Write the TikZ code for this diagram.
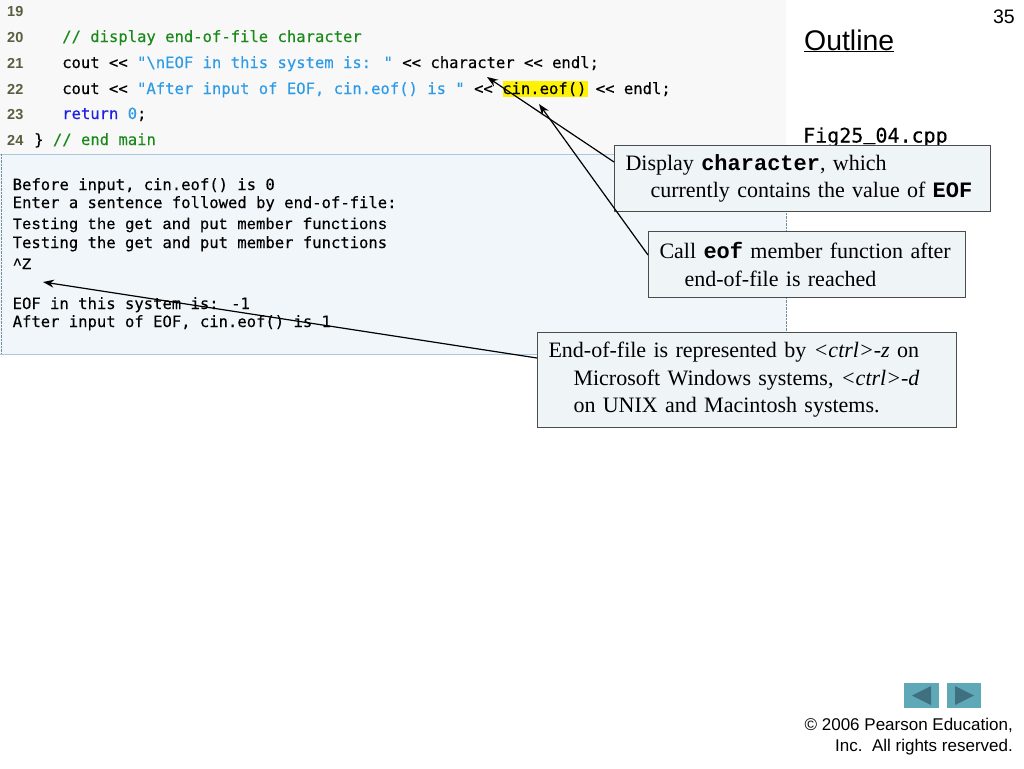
\documentclass[tikz,border=0pt]{standalone}
\usepackage{fontspec}
\usetikzlibrary{arrows.meta}
\setmainfont{Liberation Serif}
\setsansfont{Liberation Sans}
\newfontfamily\codefont[FakeBold=0.25]{DejaVu Sans Mono}
\newfontfamily\slabfont[FakeBold=0.6]{Liberation Mono}
\newfontfamily\kwfont{Liberation Mono}
\definecolor{codebg}{HTML}{F8F8F8}
\definecolor{outbg}{HTML}{F0F6FA}
\definecolor{outedge}{HTML}{A9C8E0}
\definecolor{boxbg}{HTML}{EFF4F7}
\definecolor{numcol}{HTML}{5C5C40}
\definecolor{commentcol}{HTML}{1B8A1B}
\definecolor{stringcol}{HTML}{2E9BE6}
\definecolor{keycol}{HTML}{1F1FE0}
\definecolor{btnbg}{HTML}{5FA8B8}
\definecolor{btnfg}{HTML}{3F7080}
\newcommand{\kw}[1]{{\kwfont\bfseries #1}}

\begin{document}
\begin{tikzpicture}[
    x=1pt, y=-1pt,
	codeline/.style={
	  anchor=base west,
	  inner sep=0pt,
	  font=\codefont\fontsize{15.55}{18}\selectfont
	},
	slabline/.style={
	  anchor=base west,
	  inner sep=0pt,
	  font=\slabfont\fontsize{15.6}{18}\selectfont
	},
	lineno/.style={
	  anchor=base west,
	  inner sep=0pt,
	  text=numcol,
	  font=\sffamily\bfseries\fontsize{14.5}{17}\selectfont
	},
	callout/.style={
	  rectangle,
	  anchor=north west,
	  draw=black!70,
	  line width=1pt,
	  fill=boxbg,
	  inner xsep=11pt,
	  inner ysep=0pt,
	  align=left,
	  font=\fontsize{22}{27.5}\selectfont
	},
	sans/.style={
	  inner sep=0pt,
	  font=\sffamily\fontsize{17}{21}\selectfont
	},
	button/.style={
	  rectangle,
	  fill=btnbg,
	  minimum width=34.5pt,
	  minimum height=25pt,
	  inner sep=0pt
	},
 	line/.style={draw, line width=1.2pt, -{Stealth[length=11pt, width=8pt]}}
	]
	\useasboundingbox (0, 0) rectangle (1024, 768);
	\fill[white] (0, 0) rectangle (1024, 768);
	% panels
	\fill[codebg] (0, 0) rectangle (786, 154);
	\fill[outbg] (0, 154) rectangle (786, 354);
	\draw[outedge] (0, 154) -- (786, 154);
	\draw[outedge] (0, 354) -- (786, 354);
	\draw[outedge!70!black, densely dotted] (1, 154) -- (1, 354);
	\draw[outedge!70!black, densely dotted] (786, 154) -- (786, 354);
	\fill[yellow] (503, 81) rectangle (588, 97);
	% source lines
	\foreach \num/\ypos in {19/17, 20/42, 21/68, 22/94, 23/119, 24/145}
	  \node [lineno] at (7, \ypos) (no\num) {\num};
	\node [codeline] at (62, 42) (line20) {\textcolor{commentcol}{// display end-of-file character}};
	\node [codeline] at (62, 68) (line21) {cout << \textcolor{stringcol}{"\textbackslash nEOF in this system is: "} << character << endl;};
	\node [codeline] at (62, 94) (line22) {cout << \textcolor{stringcol}{"After input of EOF, cin.eof() is "} << cin.eof() << endl;};
	\node [codeline] at (62, 119) (line23) {\textcolor{keycol}{return} \textcolor{stringcol}{0};};
	\node [codeline] at (34, 145) (line24) {\} \textcolor{commentcol}{// end main}};
	% program output
	\node [codeline] at (12.5, 190) (out1) {Before input, cin.eof() is 0};
	\node [codeline] at (12.5, 208) (out2) {Enter a sentence followed by end-of-file:};
	\node [slabline] at (12.5, 229) (out3) {Testing the get and put member functions};
	\node [codeline] at (12.5, 248) (out4) {Testing the get and put member functions};
	\node [slabline] at (12.5, 269) (out5) {\textasciicircum Z};
	\node [codeline] at (12.5, 309) (out6) {EOF in this system is: -1};
	\node [codeline] at (12.5, 327) (out7) {After input of EOF, cin.eof() is 1};
	% right column
	\node [sans, anchor=base east, font=\sffamily\fontsize{19.5}{22}\selectfont] at (1015, 24) (page) {35};
	\node [sans, anchor=base west, font=\sffamily\fontsize{28.4}{32}\selectfont] at (804, 50) (outline) {\underline{Outline}};
	\node [codeline, font=\codefont\fontsize{20}{24}\selectfont] at (803, 142.5) (figname) {Fig25\raisebox{3.2pt}{\_}04.cpp};
	% callouts
	\node [callout, text width=354pt, minimum height=66pt] at (614, 145) (displaybox)
	  {Display \kw{character}, which\\\hspace*{25pt}currently contains the value of \kw{EOF}};
	\node [callout, text width=295pt, minimum height=66pt] at (648, 231) (callbox)
	  {Call \kw{eof} member function after\\\hspace*{25pt}end-of-file is reached};
	\node [callout, text width=397pt, minimum height=95pt] at (537, 332) (ctrlbox)
	  {End-of-file is represented by \textit{<ctrl>-z} on\\\hspace*{25pt}Microsoft Windows systems, \textit{<ctrl>-d}\\\hspace*{25pt}on UNIX and Macintosh systems.};
	\coordinate (chartip) at (487, 77);
	\coordinate (eoftip) at (539, 104);
	\coordinate (ztip) at (43, 282);
	\path[line] ([yshift=-17pt]displaybox.north west) -- (chartip);
	\path[line] ([yshift=-24pt]callbox.north west) -- (eoftip);
	\path[line] ([yshift=-26pt]ctrlbox.north west) -- (ztip);
	% navigation and footer
	\node [button] at (921.5, 695.5) (prevbtn) {};
	\node [button] at (964, 695.5) (nextbtn) {};
	\fill[btnfg] (912, 695.5) -- (931, 686) -- (931, 705) -- cycle;
	\fill[btnfg] (974, 695.5) -- (955, 686) -- (955, 705) -- cycle;
	\node [sans, anchor=base east] at (1013, 730) (foot1) {\textcopyright{} 2006 Pearson Education,};
	\node [sans, anchor=base east] at (1013, 751) (foot2) {Inc.\ \ All rights reserved.};
  \end{tikzpicture}
\end{document}
